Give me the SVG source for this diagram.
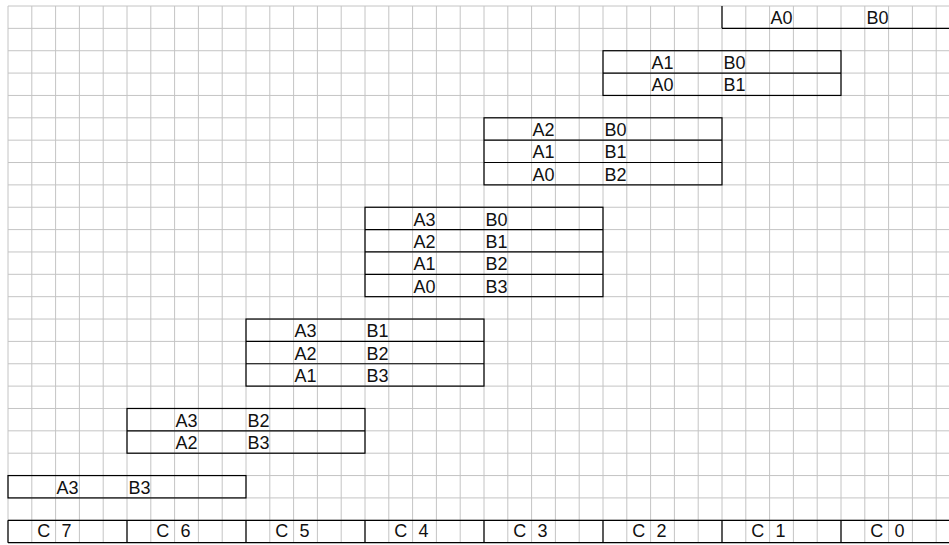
<svg xmlns="http://www.w3.org/2000/svg" width="949" height="545" viewBox="0 0 949 545">
<defs>
<style>
.grid line{stroke:#c4c4c4;stroke-width:1}
.box{fill:none;stroke:#000;stroke-width:1.2}
.sep{stroke:#000;stroke-width:1.2}
text{font-family:"Liberation Sans",Arial,sans-serif;font-size:18px;fill:#111}
</style>
</defs>
<rect width="949" height="545" fill="#fff"/>
<g class="grid" id="grid">
<line x1="8" y1="6" x2="8" y2="542.6"/><line x1="31.8" y1="6" x2="31.8" y2="542.6"/><line x1="55.6" y1="6" x2="55.6" y2="542.6"/><line x1="79.4" y1="6" x2="79.4" y2="542.6"/><line x1="103.2" y1="6" x2="103.2" y2="542.6"/>
<line x1="127" y1="6" x2="127" y2="542.6"/><line x1="150.8" y1="6" x2="150.8" y2="542.6"/><line x1="174.6" y1="6" x2="174.6" y2="542.6"/><line x1="198.4" y1="6" x2="198.4" y2="542.6"/><line x1="222.2" y1="6" x2="222.2" y2="542.6"/>
<line x1="246" y1="6" x2="246" y2="542.6"/><line x1="269.8" y1="6" x2="269.8" y2="542.6"/><line x1="293.6" y1="6" x2="293.6" y2="542.6"/><line x1="317.4" y1="6" x2="317.4" y2="542.6"/><line x1="341.2" y1="6" x2="341.2" y2="542.6"/>
<line x1="365" y1="6" x2="365" y2="542.6"/><line x1="388.8" y1="6" x2="388.8" y2="542.6"/><line x1="412.6" y1="6" x2="412.6" y2="542.6"/><line x1="436.4" y1="6" x2="436.4" y2="542.6"/><line x1="460.2" y1="6" x2="460.2" y2="542.6"/>
<line x1="484" y1="6" x2="484" y2="542.6"/><line x1="507.8" y1="6" x2="507.8" y2="542.6"/><line x1="531.6" y1="6" x2="531.6" y2="542.6"/><line x1="555.4" y1="6" x2="555.4" y2="542.6"/><line x1="579.2" y1="6" x2="579.2" y2="542.6"/>
<line x1="603" y1="6" x2="603" y2="542.6"/><line x1="626.8" y1="6" x2="626.8" y2="542.6"/><line x1="650.6" y1="6" x2="650.6" y2="542.6"/><line x1="674.4" y1="6" x2="674.4" y2="542.6"/><line x1="698.2" y1="6" x2="698.2" y2="542.6"/>
<line x1="722" y1="6" x2="722" y2="542.6"/><line x1="745.8" y1="6" x2="745.8" y2="542.6"/><line x1="769.6" y1="6" x2="769.6" y2="542.6"/><line x1="793.4" y1="6" x2="793.4" y2="542.6"/><line x1="817.2" y1="6" x2="817.2" y2="542.6"/>
<line x1="841" y1="6" x2="841" y2="542.6"/><line x1="864.8" y1="6" x2="864.8" y2="542.6"/><line x1="888.6" y1="6" x2="888.6" y2="542.6"/><line x1="912.4" y1="6" x2="912.4" y2="542.6"/><line x1="936.2" y1="6" x2="936.2" y2="542.6"/>
<line x1="8" y1="6" x2="949" y2="6"/><line x1="8" y1="28.36" x2="949" y2="28.36"/><line x1="8" y1="50.72" x2="949" y2="50.72"/><line x1="8" y1="73.08" x2="949" y2="73.08"/><line x1="8" y1="95.44" x2="949" y2="95.44"/>
<line x1="8" y1="117.8" x2="949" y2="117.8"/><line x1="8" y1="140.16" x2="949" y2="140.16"/><line x1="8" y1="162.52" x2="949" y2="162.52"/><line x1="8" y1="184.88" x2="949" y2="184.88"/><line x1="8" y1="207.24" x2="949" y2="207.24"/>
<line x1="8" y1="229.6" x2="949" y2="229.6"/><line x1="8" y1="251.96" x2="949" y2="251.96"/><line x1="8" y1="274.32" x2="949" y2="274.32"/><line x1="8" y1="296.68" x2="949" y2="296.68"/><line x1="8" y1="319.04" x2="949" y2="319.04"/>
<line x1="8" y1="341.4" x2="949" y2="341.4"/><line x1="8" y1="363.76" x2="949" y2="363.76"/><line x1="8" y1="386.12" x2="949" y2="386.12"/><line x1="8" y1="408.48" x2="949" y2="408.48"/><line x1="8" y1="430.84" x2="949" y2="430.84"/>
<line x1="8" y1="453.2" x2="949" y2="453.2"/><line x1="8" y1="475.56" x2="949" y2="475.56"/><line x1="8" y1="497.92" x2="949" y2="497.92"/><line x1="8" y1="520.28" x2="949" y2="520.28"/><line x1="8" y1="542.64" x2="949" y2="542.64"/>
</g>
<g id="connectors"></g>
<g id="p0">
<line class="sep" x1="722" y1="6" x2="722" y2="28.36"/><line class="sep" x1="722" y1="28.36" x2="949" y2="28.36"/>
<text x="770.5" y="24.4">A0</text><text x="866.5" y="24.4">B0</text>
</g>
<g id="p1">
<rect class="box" x="603" y="50.72" width="238" height="44.72"/><line class="sep" x1="603" y1="73.08" x2="841" y2="73.08"/>
<text x="651.5" y="68.7">A1</text><text x="723.5" y="68.7">B0</text>
<text x="651.5" y="91.1">A0</text><text x="723.5" y="91.1">B1</text>
</g>
<g id="p2">
<rect class="box" x="484" y="117.8" width="238" height="67.08"/><line class="sep" x1="484" y1="140.16" x2="722" y2="140.16"/><line class="sep" x1="484" y1="162.52" x2="722" y2="162.52"/>
<text x="532.5" y="135.8">A2</text><text x="604.5" y="135.8">B0</text>
<text x="532.5" y="158.2">A1</text><text x="604.5" y="158.2">B1</text>
<text x="532.5" y="180.5">A0</text><text x="604.5" y="180.5">B2</text>
</g>
<g id="p3">
<rect class="box" x="365" y="207.24" width="238" height="89.44"/><line class="sep" x1="365" y1="229.6" x2="603" y2="229.6"/><line class="sep" x1="365" y1="251.96" x2="603" y2="251.96"/><line class="sep" x1="365" y1="274.32" x2="603" y2="274.32"/>
<text x="413.5" y="225.6">A3</text><text x="485.5" y="225.6">B0</text>
<text x="413.5" y="248">A2</text><text x="485.5" y="248">B1</text>
<text x="413.5" y="270.3">A1</text><text x="485.5" y="270.3">B2</text>
<text x="413.5" y="292.7">A0</text><text x="485.5" y="292.7">B3</text>
</g>
<g id="p4">
<rect class="box" x="246" y="319.04" width="238" height="67.08"/><line class="sep" x1="246" y1="341.4" x2="484" y2="341.4"/><line class="sep" x1="246" y1="363.76" x2="484" y2="363.76"/>
<text x="294.5" y="337.4">A3</text><text x="366.5" y="337.4">B1</text>
<text x="294.5" y="359.8">A2</text><text x="366.5" y="359.8">B2</text>
<text x="294.5" y="382.1">A1</text><text x="366.5" y="382.1">B3</text>
</g>
<g id="p5">
<rect class="box" x="127" y="408.48" width="238" height="44.72"/><line class="sep" x1="127" y1="430.84" x2="365" y2="430.84"/>
<text x="175.5" y="426.5">A3</text><text x="247.5" y="426.5">B2</text>
<text x="175.5" y="448.9">A2</text><text x="247.5" y="448.9">B3</text>
</g>
<g id="p6">
<rect class="box" x="8" y="475.56" width="238" height="22.36"/>
<text x="56.5" y="493.6">A3</text><text x="128.5" y="493.6">B3</text>
</g>
<g id="result">
<line class="sep" x1="8" y1="520.28" x2="949" y2="520.28"/><line class="sep" x1="8" y1="542.64" x2="949" y2="542.64"/>
<line class="sep" x1="8" y1="520.28" x2="8" y2="542.64"/><line class="sep" x1="127" y1="520.28" x2="127" y2="542.64"/><line class="sep" x1="246" y1="520.28" x2="246" y2="542.64"/><line class="sep" x1="365" y1="520.28" x2="365" y2="542.64"/><line class="sep" x1="484" y1="520.28" x2="484" y2="542.64"/><line class="sep" x1="603" y1="520.28" x2="603" y2="542.64"/><line class="sep" x1="722" y1="520.28" x2="722" y2="542.64"/><line class="sep" x1="841" y1="520.28" x2="841" y2="542.64"/>
<text x="37.3" y="537.3">C</text><text x="61.5" y="537.3">7</text>
<text x="156.3" y="537.3">C</text><text x="180.5" y="537.3">6</text>
<text x="275.3" y="537.3">C</text><text x="299.5" y="537.3">5</text>
<text x="394.3" y="537.3">C</text><text x="418.5" y="537.3">4</text>
<text x="513.3" y="537.3">C</text><text x="537.5" y="537.3">3</text>
<text x="632.3" y="537.3">C</text><text x="656.5" y="537.3">2</text>
<text x="751.3" y="537.3">C</text><text x="775.5" y="537.3">1</text>
<text x="870.3" y="537.3">C</text><text x="894.5" y="537.3">0</text>
</g>
</svg>
